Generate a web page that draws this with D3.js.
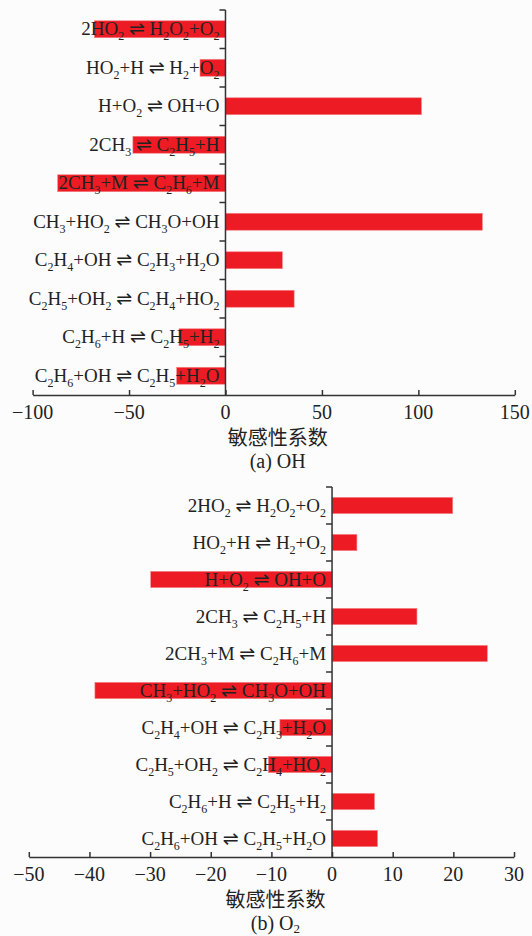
<!DOCTYPE html>
<html>
<head>
<meta charset="utf-8">
<title>敏感性系数</title>
<style>
  body { margin: 0; background: #fcfcfc; }
  svg { display: block; }
  text { font-family: "Liberation Serif", "Times New Roman", serif; fill: #222; }
  .axis path, .axis line { stroke: #333; stroke-width: 1.5px; }
  .bar { fill: #ed1c24; stroke: #f4868a; stroke-width: 0.6px; }
</style>
</head>
<body>
<svg width="532" height="936"></svg>
<script src="https://d3js.org/d3.v7.min.js"></script>
<script>
// reactions, top to bottom ("_n" = subscript)
var reactions = [
  "2HO_2 ⇌ H_2O_2+O_2",
  "HO_2+H ⇌ H_2+O_2",
  "H+O_2 ⇌ OH+O",
  "2CH_3 ⇌ C_2H_5+H",
  "2CH_3+M ⇌ C_2H_6+M",
  "CH_3+HO_2 ⇌ CH_3O+OH",
  "C_2H_4+OH ⇌ C_2H_3+H_2O",
  "C_2H_5+OH_2 ⇌ C_2H_4+HO_2",
  "C_2H_6+H ⇌ C_2H_5+H_2",
  "C_2H_6+OH ⇌ C_2H_5+H_2O"
];

var sensOH = [-68, -13.2, 101.6, -48, -87, 133.2, 29.5, 35.6, -24.1, -25.3];
var sensO2 = [19.9, 4.1, -29.9, 14, 25.6, -39.1, -8.6, -10.5, 7, 7.5];

var ticksOH = [-100, -50, 0, 50, 100, 150];
var ticksO2 = [-50, -40, -30, -20, -10, 0, 10, 20, 30];

var xTitle = "敏感性系数";

var svg = d3.select("svg");

function drawPanel(opt) {
  var g = svg.append("g");

  var x = d3.scaleLinear().domain(opt.domain).range([opt.left, opt.right]);
  var y = d3.scaleBand().domain(reactions).range([opt.top, opt.bottom]).paddingInner(0.56).paddingOuter(0.28);

  var rows = reactions.map(function(r, i) { return {name: r, value: opt.values[i]}; });

  g.selectAll(".bar")
    .data(rows)
    .enter().append("rect")
    .attr("class", "bar")
    .attr("x", function(d) { return x(Math.min(0, d.value)); })
    .attr("width", function(d) { return Math.abs(x(d.value) - x(0)); })
    .attr("y", function(d) { return y(d.name); })
    .attr("height", y.bandwidth());

  // x axis, ticks pointing up
  g.append("g")
    .attr("class", "axis")
    .attr("transform", "translate(0," + opt.bottom + ")")
    .call(d3.axisTop(x).tickValues(opt.ticks).tickSize(5).tickSizeOuter(0))
    .call(function(a) { a.selectAll("text").remove(); });

  g.append("g").selectAll("text")
    .data(opt.ticks)
    .enter().append("text")
    .attr("x", function(d) { return x(d); })
    .attr("y", opt.bottom + 24)
    .attr("text-anchor", "middle")
    .style("font-size", "20px")
    .text(function(d) { return d < 0 ? "\u2212" + Math.abs(d) : d; });

  // y axis at zero, ticks between categories
  var step = y.step();
  var bounds = d3.range(0, reactions.length).map(function(i) { return opt.top + i * step; });
  var ya = g.append("g").attr("class", "axis");
  ya.append("line")
    .attr("x1", x(0)).attr("x2", x(0))
    .attr("y1", opt.top).attr("y2", opt.bottom);
  ya.selectAll(".tk")
    .data(bounds)
    .enter().append("line")
    .attr("class", "tk")
    .attr("x1", x(0) - 6).attr("x2", x(0))
    .attr("y1", function(d) { return d; }).attr("y2", function(d) { return d; });

  // reaction labels with subscripts
  var lab = g.append("g").selectAll("text")
    .data(reactions)
    .enter().append("text")
    .attr("x", x(0) - 6)
    .attr("y", function(d) { return y(d) + y.bandwidth() / 2 + 6; })
    .attr("text-anchor", "end")
    .style("font-size", "19px");

  lab.each(function(d) {
    var t = d3.select(this);
    var parts = d.split(/(_\d)/);
    var sub = false;
    parts.forEach(function(p) {
      if (!p) return;
      if (p.charAt(0) === "_") {
        t.append("tspan").attr("dy", 5).style("font-size", "12px").text(p.slice(1));
        sub = true;
      } else {
        var s = t.append("tspan");
        if (sub) { s.attr("dy", -5); sub = false; }
        if (p.indexOf("⇌") >= 0) {
          var bits = p.split("⇌");
          s.text(bits[0]);
          t.append("tspan").style("font-family", "DejaVu Sans").style("font-size", "19px").text("⇌");
          t.append("tspan").text(bits[1]);
        } else {
          s.text(p);
        }
      }
    });
  });

  g.append("text")
    .attr("x", (opt.left + opt.right) / 2 + 4)
    .attr("y", opt.bottom + 50)
    .attr("text-anchor", "middle")
    .style("font-family", "Noto Sans CJK SC")
    .style("font-size", "20px")
    .text(xTitle);

  var cap = g.append("text")
    .attr("x", (opt.left + opt.right) / 2 + 4)
    .attr("y", opt.bottom + 73)
    .attr("text-anchor", "middle")
    .style("font-size", "20px")
    .text(opt.caption);
  if (opt.capSub) {
    cap.append("tspan").attr("dy", 3).style("font-size", "13px").text(opt.capSub);
  }
}

drawPanel({
  values: sensOH, domain: [-100, 150], ticks: ticksOH,
  left: 32.6, right: 514.8, top: 10, bottom: 395,
  caption: "(a) OH"
});

drawPanel({
  values: sensO2, domain: [-50, 30], ticks: ticksO2,
  left: 28.8, right: 514, top: 487, bottom: 857,
  caption: "(b) O", capSub: "2"
});
</script>
</body>
</html>
